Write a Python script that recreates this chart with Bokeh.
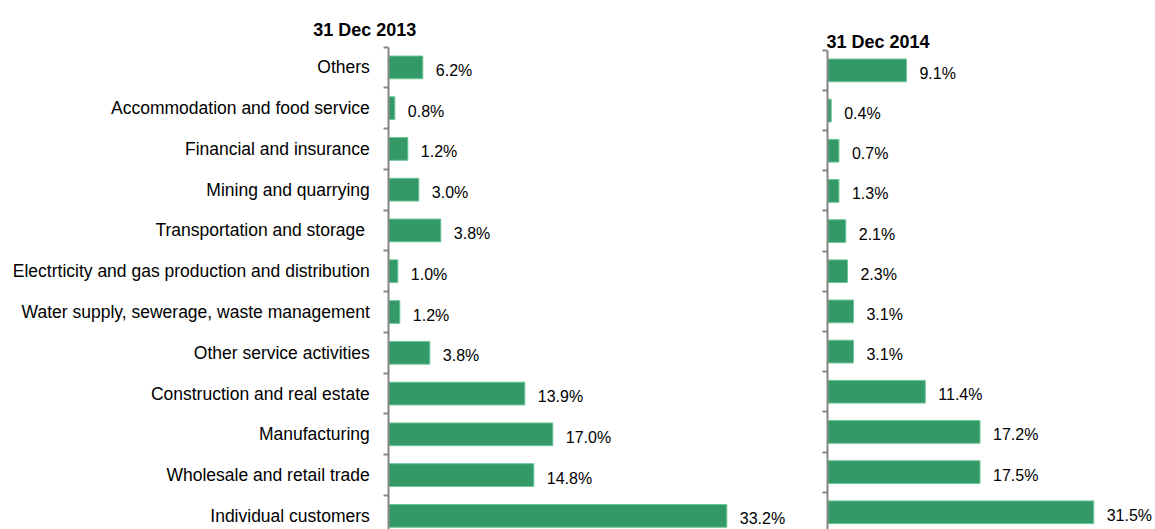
from bokeh.plotting import figure
from bokeh.layouts import row
from bokeh.models import FixedTicker, Range1d, Label, ColumnDataSource, LinearAxis
from bokeh.core.properties import value
from bokeh.embed import file_html
from bokeh.resources import INLINE

categories = [
    "Others",
    "Accommodation and food service",
    "Financial and insurance",
    "Mining and quarrying",
    "Transportation and storage ",
    "Electrticity and gas production and distribution",
    "Water supply, sewerage, waste management",
    "Other service activities",
    "Construction and real estate",
    "Manufacturing",
    "Wholesale and retail trade",
    "Individual customers",
]
# printed data labels
labels_2013 = ["6.2%", "0.8%", "1.2%", "3.0%", "3.8%", "1.0%", "1.2%", "3.8%",
               "13.9%", "17.0%", "14.8%", "33.2%"]
labels_2014 = ["9.1%", "0.4%", "0.7%", "1.3%", "2.1%", "2.3%", "3.1%", "3.1%",
               "11.4%", "17.2%", "17.5%", "31.5%"]
# bar lengths as drawn in the picture (percent)
bars_2013 = [3.4, 0.6, 1.9, 3.0, 5.2, 0.9, 1.1, 4.1, 13.6, 16.4, 14.5, 33.8]
bars_2014 = [9.2, 0.4, 1.3, 1.3, 2.1, 2.3, 3.0, 3.0, 11.4, 17.8, 17.8, 31.1]
titles = ["31 Dec 2013", "31 Dec 2014"]

FONT = "Liberation Sans"
GREEN = "#339966"
EDGE = "#6cc497"
AXIS = "#868686"
H = 529

pos = list(range(len(categories)))
bounds = [i - 0.5 for i in range(len(categories) + 1)]


def make_panel(bars, labs, title, width, axis_px, px_per_pct, top_px, band_px,
               title_px, title_base_px, show_labels, bar_h):
    x0 = -axis_px / px_per_pct
    y_top = -0.5 - top_px / band_px
    y_bot = -0.5 + (H - top_px) / band_px
    p = figure(width=width, height=H, output_backend="svg", toolbar_location=None,
               x_range=Range1d(x0, x0 + width / px_per_pct),
               y_range=Range1d(y_bot, y_top),
               x_axis_location=None, y_axis_location=None,
               min_border_left=0, min_border_right=0,
               min_border_top=0, min_border_bottom=0)
    src = ColumnDataSource(dict(y=pos, v=bars, lab=labs))
    p.hbar(y="y", right="v", left=0, height=bar_h, source=src,
           fill_color=GREEN, line_color=EDGE, line_width=1)
    p.text(x="v", y="y", text="lab", source=src, x_offset=13, y_offset=3,
           text_font=value(FONT), text_font_size="16px", text_baseline="middle",
           text_align="left", text_color="#000000")
    p.add_layout(Label(x=(title_px - axis_px) / px_per_pct,
                       y=-0.5 - (top_px - title_base_px) / band_px,
                       text=title, text_font=FONT, text_font_size="18px",
                       text_font_style="bold", text_color="#000000",
                       text_baseline="alphabetic", text_align="left"))
    p.xgrid.visible = False
    p.ygrid.visible = False
    p.outline_line_color = None
    ax = LinearAxis(fixed_location=0)
    ax.bounds = (-0.5, len(categories) - 0.5)
    ax.ticker = FixedTicker(ticks=pos, minor_ticks=bounds)
    ax.axis_line_color = AXIS
    ax.axis_line_width = 2
    ax.major_tick_line_color = None
    ax.major_tick_out = 0
    ax.major_tick_in = 0
    ax.minor_tick_line_color = AXIS
    ax.minor_tick_line_width = 2
    ax.minor_tick_out = 5
    ax.minor_tick_in = 0
    if show_labels:
        ax.major_label_overrides = {i: c for i, c in enumerate(categories)}
        ax.major_label_text_font = FONT
        ax.major_label_text_font_size = "17.5px"
        ax.major_label_text_color = "#000000"
        ax.major_label_standoff = 14
    else:
        ax.major_label_text_font_size = "0px"
        ax.major_label_text_color = None
    p.add_layout(ax, "left")
    return p


left = make_panel(bars_2013, labels_2013, titles[0], 800, 388.3, 10.0, 46.5, 40.77,
                  312.7, 29.3, True, 0.557)
right = make_panel(bars_2014, labels_2014, titles[1], 355, 27.3, 8.55, 49.8, 40.17,
                   26, 41, False, 0.565)

layout = row(left, right)
open("out.html", "w").write(file_html(layout, INLINE))
